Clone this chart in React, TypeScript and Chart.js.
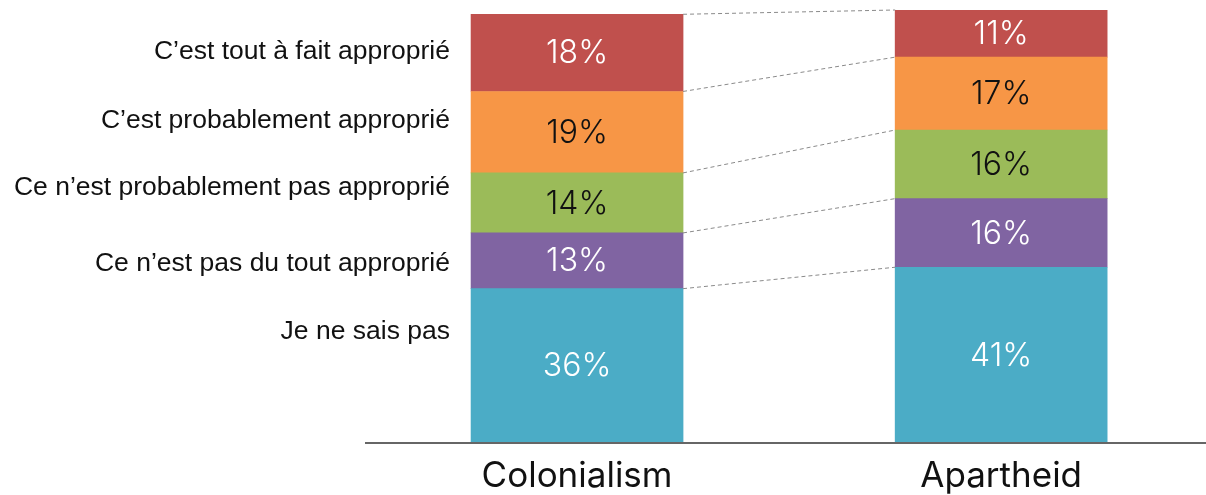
import React, { useEffect, useRef } from "react";
import { Chart, registerables } from "chart.js";

Chart.register(...registerables);

const categories = ["Colonialism", "Apartheid"];
const seriesNames = [
  "Je ne sais pas",
  "Ce n’est pas du tout approprié",
  "Ce n’est probablement pas approprié",
  "C’est probablement approprié",
  "C’est tout à fait approprié",
];
const dontKnow = [36, 41];
const notAtAll = [13, 16];
const probablyNot = [14, 16];
const probably = [19, 17];
const totally = [18, 11];
const seriesValues = [dontKnow, notAtAll, probablyNot, probably, totally];
const seriesColors = ["#4BACC6", "#8064A2", "#9BBB59", "#F79646", "#C0504D"];
const labelColors = ["#ffffff", "#ffffff", "#111111", "#111111", "#ffffff"];
// vertical anchor (in value units) of the left-hand legend texts
const legendAnchors = [25.9, 41.8, 59.5, 75.1, 91.2];

const overlay = {
  id: "overlay",
  afterDatasetsDraw(chart: any) {
    const ctx = chart.ctx;
    const area = chart.chartArea;
    const yScale = chart.scales.y;
    const xScale = chart.scales.x;
    ctx.save();
    // connectors
    ctx.strokeStyle = "#8a8a8a";
    ctx.lineWidth = 1;
    ctx.setLineDash([4, 3]);
    for (let i = 0; i < seriesValues.length; i++) {
      const meta = chart.getDatasetMeta(i);
      const a = meta.data[0];
      const b = meta.data[1];
      ctx.beginPath();
      ctx.moveTo(a.x + a.width / 2, a.y);
      ctx.lineTo(b.x - b.width / 2, b.y);
      ctx.stroke();
    }
    ctx.setLineDash([]);
    // value labels
    ctx.textAlign = "center";
    ctx.textBaseline = "middle";
    ctx.font = "300 32px Inter";
    for (let i = 0; i < seriesValues.length; i++) {
      const meta = chart.getDatasetMeta(i);
      meta.data.forEach((el: any, j: number) => {
        ctx.fillStyle = labelColors[i];
        const cy = (el.y + el.base) / 2;
        ctx.fillText(seriesValues[i][j] + "%", el.x, cy + 1);
      });
    }
    // axis line
    ctx.strokeStyle = "#666666";
    ctx.lineWidth = 2;
    ctx.beginPath();
    ctx.moveTo(area.left, area.bottom);
    ctx.lineTo(chart.width, area.bottom);
    ctx.stroke();
    // category labels
    ctx.fillStyle = "#111111";
    ctx.font = "400 35px Inter";
    categories.forEach((c, j) => {
      ctx.fillText(c, xScale.getPixelForValue(j), area.bottom + 33);
    });
    // legend texts
    ctx.textAlign = "right";
    ctx.font = "26.5px 'Liberation Sans', Arial, sans-serif";
    seriesNames.forEach((n, i) => {
      ctx.fillText(n, area.left + 85, yScale.getPixelForValue(legendAnchors[i]));
    });
    ctx.restore();
  },
};

export default function App() {
  const ref = useRef<HTMLCanvasElement | null>(null);
  useEffect(() => {
    if (!ref.current) return;
    const chart = new Chart(ref.current, {
      type: "bar",
      data: {
        datasets: seriesValues.map((vals, i) => ({
          label: seriesNames[i],
          data: vals.map((v, j) => ({ x: j, y: v })),
          backgroundColor: seriesColors[i],
          borderWidth: 0,
          barThickness: 212,
        })),
      },
      options: {
        animation: false,
        responsive: false,
        layout: { padding: { left: 365, right: 0, top: 10, bottom: 52 } },
        plugins: { legend: { display: false }, tooltip: { enabled: false } },
        scales: {
          x: { type: "linear", stacked: true, offset: false, min: -0.5, max: 1.483, display: false },
          y: { stacked: true, min: 0, max: 101, display: false },
        },
      },
      plugins: [overlay],
    });
    return () => chart.destroy();
  }, []);
  return (
    <div style={{ position: "absolute", left: 0, top: 0, width: 1206, height: 495, background: "#fff" }}>
      <canvas ref={ref} width={1206} height={495} style={{ width: 1206, height: 495 }} />
    </div>
  );
}
